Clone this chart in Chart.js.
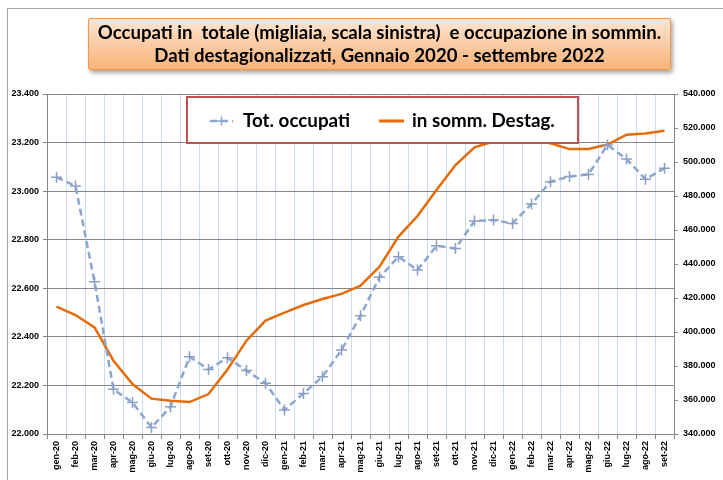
<!DOCTYPE html>
<html>
<head>
<meta charset="utf-8">
<script src="https://cdn.jsdelivr.net/npm/chart.js@4/dist/chart.umd.min.js"></script>
<style>
  html, body { margin: 0; padding: 0; background: #fff; }
  #wrap { position: relative; width: 723px; height: 480px; overflow: hidden; }
  #frame { position: absolute; left: 7px; top: 8px; width: 730px; height: 490px;
           border-left: 1px solid #a6a6a6; border-top: 1px solid #a6a6a6; }
  #title { position: absolute; left: 88px; top: 18px; width: 583px; height: 52px;
           border: 1px solid #f79646; border-radius: 2px;
           background: linear-gradient(#fde6d4, #fbc79c 60%, #f9b47a);
           box-shadow: 2px 3px 4px rgba(0,0,0,0.35);
           font: bold 18.6px Lato, sans-serif; color: #000; text-align: center;
           line-height: 23px; padding-top: 2px; box-sizing: border-box; white-space: pre; }
  #legend { position: absolute; left: 186px; top: 96px; width: 393px; height: 48px;
            box-sizing: border-box; border: 2px solid #c0504d; background: #fff; }
  #legend span { position: absolute; top: 10px; font: bold 18.8px Lato, sans-serif; color: #000; }
  #legend svg { position: absolute; top: 0; left: 0; }
  canvas { position: absolute; left: 0; top: 0; }
</style>
</head>
<body>
<div id="wrap">
  <canvas id="myChart" width="723" height="480"></canvas>
  <div id="frame"></div>
  <div id="title">Occupati in  totale (migliaia, scala sinistra)  e occupazione in sommin.
Dati destagionalizzati, Gennaio 2020 - settembre 2022</div>
  <div id="legend">
    <svg width="393" height="48">
      <line x1="22" y1="23" x2="45" y2="23" stroke="#8da6d0" stroke-width="2.5" stroke-dasharray="7,4"/>
      <line x1="29" y1="23" x2="38" y2="23" stroke="#8da6d0" stroke-width="1.5"/>
      <line x1="33.5" y1="18.5" x2="33.5" y2="27.5" stroke="#8da6d0" stroke-width="1.5"/>
      <line x1="191" y1="23" x2="216" y2="23" stroke="#e46c0a" stroke-width="3"/>
    </svg>
    <span style="left:55px">Tot. occupati</span>
    <span style="left:224px">in somm. Destag.</span>
  </div>
</div>
<script>
const months = ['gen-20', 'feb-20', 'mar-20', 'apr-20', 'mag-20', 'giu-20', 'lug-20', 'ago-20', 'set-20', 'ott-20', 'nov-20', 'dic-20',
    'gen-21', 'feb-21', 'mar-21', 'apr-21', 'mag-21', 'giu-21', 'lug-21', 'ago-21', 'set-21', 'ott-21', 'nov-21', 'dic-21',
    'gen-22', 'feb-22', 'mar-22', 'apr-22', 'mag-22', 'giu-22', 'lug-22', 'ago-22', 'set-22'];

// occupati totali, migliaia (scala sinistra)
const totOccupati = [23057, 23021, 22627, 22184, 22130, 22027, 22112, 22318, 22266, 22314, 22261, 22209,
    22099, 22167, 22236, 22346, 22487, 22645, 22730, 22675, 22775, 22764, 22877, 22881,
    22867, 22947, 23039, 23060, 23069, 23190, 23132, 23049, 23094];

// occupati in somministrazione (scala destra)
const sommDestag = [414900, 410000, 402700, 383100, 369400, 360800, 359600, 358800, 363500, 378000, 394900, 406700,
    411400, 415900, 419400, 422400, 427300, 438400, 456100, 468200, 483500, 498200, 508600, 512000,
    512500, 512500, 511000, 507600, 507600, 510300, 516100, 516700, 518400];

const leftMin = 22000, leftMax = 23400, leftStep = 200;
const rightMin = 340000, rightMax = 540000, rightStep = 20000;

function fmt(n) {
    return String(Math.round(n)).replace(/\B(?=(\d{3})+(?!\d))/g, '.');
}

const tickFont = { family: 'Liberation Sans, Arial, sans-serif', size: 9, weight: 'bold' };
const gray = '#868686';

var ctx = document.getElementById('myChart').getContext('2d');

var myChart = new Chart(ctx, {
    type: 'line',
    data: {
        labels: months,
        datasets: [{
            label: 'Tot. occupati',
            data: totOccupati,
            yAxisID: 'y',
            borderColor: '#8da6d0',
            borderWidth: 2.5,
            borderDash: [7, 4],
            pointStyle: 'cross',
            pointRadius: 5.5,
            pointBorderWidth: 1.5,
            pointBorderColor: '#8a9fc4',
            tension: 0
        }, {
            label: 'in somm. Destag.',
            data: sommDestag,
            yAxisID: 'y1',
            borderColor: '#e46c0a',
            borderWidth: 2.5,
            pointRadius: 0,
            tension: 0
        }]
    },
    options: {
        responsive: false,
        animation: false,
        layout: { padding: { top: 94, left: 0, right: 0, bottom: 0 } },
        plugins: {
            legend: { display: false },
            tooltip: { enabled: false }
        },
        scales: {
            x: {
                offset: true,
                grid: { offset: true, color: '#c9daf2', lineWidth: 1, tickColor: gray, tickLength: 5 },
                border: { color: gray },
                ticks: { font: tickFont, color: '#000', minRotation: 90, maxRotation: 90, autoSkip: false, padding: 2 },
                afterFit: function (scale) { scale.height = 46; }
            },
            y: {
                position: 'left',
                min: leftMin,
                max: leftMax,
                grid: { color: gray, lineWidth: 1, tickColor: gray, tickLength: 4 },
                border: { color: gray },
                ticks: { stepSize: leftStep, font: tickFont, color: '#000', padding: 4, callback: v => fmt(v) },
                afterFit: function (scale) { scale.width = 47; }
            },
            y1: {
                position: 'right',
                min: rightMin,
                max: rightMax,
                grid: { drawOnChartArea: false, tickColor: gray, tickLength: 4 },
                border: { color: gray },
                ticks: { stepSize: rightStep, font: tickFont, color: '#000', padding: 5, callback: v => fmt(v) },
                afterFit: function (scale) { scale.width = 49; }
            }
        }
    }
});
</script>
</body>
</html>
